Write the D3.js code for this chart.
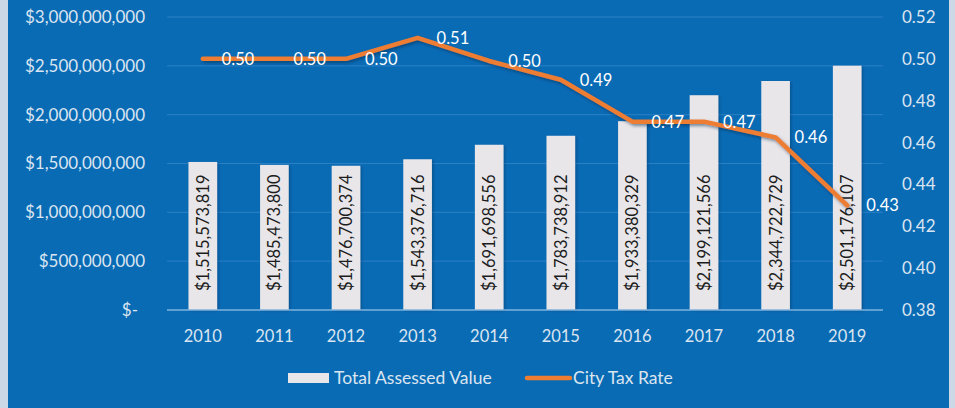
<!DOCTYPE html>
<html><head><meta charset="utf-8">
<script src="https://cdn.jsdelivr.net/npm/d3@7"></script>
<style>
html,body{margin:0;padding:0;background:#cfd9e6;}
svg{display:block;font-family:Lato,"Open Sans",sans-serif;}
</style></head>
<body><svg id="c" width="955" height="408"></svg>
<script>
const years = ["2010","2011","2012","2013","2014","2015","2016","2017","2018","2019"];
const assessedValues = [1515573819,1485473800,1476700374,1543376716,1691698556,1783738912,1933380329,2199121566,2344722729,2501176107];
const taxRates = [0.50,0.50,0.50,0.51,0.499,0.49,0.47,0.47,0.4625,0.43];
const leftTicks = [0,500000000,1000000000,1500000000,2000000000,2500000000,3000000000];
const rightTicks = [0.38,0.40,0.42,0.44,0.46,0.48,0.50,0.52];
const seriesNames = ["Total Assessed Value","City Tax Rate"];

const svg = d3.select("#c");
const W=955,H=408;
const defs = svg.append("defs");
const sh = defs.append("filter").attr("id","sh").attr("x","-10%").attr("y","-30%").attr("width","130%").attr("height","160%");
sh.append("feDropShadow").attr("dx",1.5).attr("dy",2).attr("stdDeviation",1.5).attr("flood-color","#02264a").attr("flood-opacity",0.5);
const bsh = defs.append("filter").attr("id","bsh").attr("x","-20%").attr("y","-5%").attr("width","140%").attr("height","110%");
bsh.append("feDropShadow").attr("dx",1.5).attr("dy",1).attr("stdDeviation",1).attr("flood-color","#02264a").attr("flood-opacity",0.35);

// background sky edges + blue panel
svg.append("rect").attr("x",0).attr("y",0).attr("width",W).attr("height",H).attr("fill","#cdd8e6");
svg.append("rect").attr("x",8).attr("y",0).attr("width",941).attr("height",H).attr("fill","#0a6bb5");

const x = d3.scaleBand().domain(years).range([167,883]).paddingInner(0.6).paddingOuter(0.3);
const yL = d3.scaleLinear().domain([0,3000000000]).range([310,17]);
const yR = d3.scaleLinear().domain([0.38,0.52]).range([310,17]);

// gridlines
svg.append("g").selectAll("line").data(leftTicks.slice(1)).join("line")
  .attr("x1",167).attr("x2",883).attr("y1",d=>yL(d)).attr("y2",d=>yL(d))
  .attr("stroke","#2b80c4").attr("stroke-width",1);

// left axis
const fmtL = d => d===0 ? "$-" : "$"+d3.format(",")(d);
const axL = svg.append("g").attr("transform","translate(167,0)")
  .call(d3.axisLeft(yL).tickValues(leftTicks).tickFormat(fmtL).tickSize(0).tickPadding(22));
axL.select(".domain").remove();
axL.selectAll("text").attr("fill","#dbe5f0").attr("font-size","17px").attr("font-family","Lato,sans-serif");
axL.selectAll(".tick").filter(d=>d===0).select("text").attr("dx","-7");

// right axis
const axR = svg.append("g").attr("transform","translate(883,0)")
  .call(d3.axisRight(yR).tickValues(rightTicks).tickFormat(d3.format(".2f")).tickSize(0).tickPadding(19));
axR.select(".domain").remove();
axR.selectAll("text").attr("fill","#dbe5f0").attr("font-size","17px").attr("font-family","Lato,sans-serif");

// bars
svg.append("g").selectAll("rect").data(years).join("rect")
  .attr("x",d=>x(d)).attr("width",x.bandwidth())
  .attr("y",(d,i)=>yL(assessedValues[i])).attr("height",(d,i)=>yL(0)-yL(assessedValues[i]))
  .attr("fill","#e8e6e9").attr("filter","url(#bsh)");

// baseline
svg.append("line").attr("x1",167).attr("x2",883).attr("y1",yL(0)).attr("y2",yL(0))
  .attr("stroke","#7fb2de").attr("stroke-width",1.5);

// bottom axis
const axB = svg.append("g").attr("transform","translate(0,"+yL(0)+")")
  .call(d3.axisBottom(x).tickSize(0).tickPadding(20));
axB.select(".domain").remove();
axB.selectAll("text").attr("fill","#dbe5f0").attr("font-size","16.5px").attr("font-family","Lato,sans-serif");

// bar labels
const fmtV = d => "$"+d3.format(",")(d);
svg.append("g").selectAll("text").data(years).join("text")
  .attr("transform",(d,i)=>`translate(${x(d)+x.bandwidth()/2},${yL(0)-19}) rotate(-90)`)
  .attr("text-anchor","start").attr("dy","0.36em")
  .attr("font-size","16.5px").attr("fill","#1c1c1c")
  .text((d,i)=>fmtV(assessedValues[i]));

// line
const line = d3.line().x((d,i)=>x(years[i])+x.bandwidth()/2).y(d=>yR(d));
svg.append("path").datum(taxRates).attr("d",line).attr("fill","none")
  .attr("stroke","#ed7d31").attr("stroke-width",4.5).attr("stroke-linejoin","round").attr("stroke-linecap","round")
  .attr("filter","url(#sh)");

// line labels
svg.append("g").selectAll("text").data(taxRates).join("text")
  .attr("x",(d,i)=>x(years[i])+x.bandwidth()/2+19).attr("y",d=>yR(d)).attr("dy","0.36em")
  .attr("font-size","16.5px").attr("fill","#ffffff")
  .text(d=>d3.format(".2f")(d));

// legend
const lg = svg.append("g");
lg.append("rect").attr("x",288).attr("y",373).attr("width",41).attr("height",10).attr("fill","#e8e6e9");
lg.append("text").attr("x",334).attr("y",378).attr("dy","0.36em").attr("font-size","17.5px").attr("fill","#dbe5f0").text(seriesNames[0]);
lg.append("line").attr("x1",527).attr("x2",570).attr("y1",378).attr("y2",378).attr("stroke","#ed7d31").attr("stroke-width",4.5).attr("stroke-linecap","round");
lg.append("text").attr("x",573).attr("y",378).attr("dy","0.36em").attr("font-size","17.5px").attr("fill","#dbe5f0").text(seriesNames[1]);
</script></body></html>
